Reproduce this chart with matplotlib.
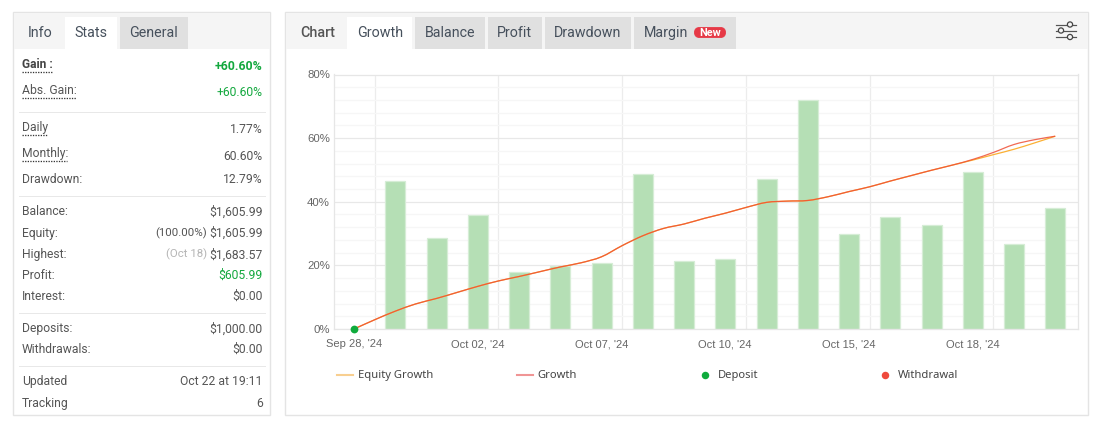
import matplotlib
matplotlib.use("Agg")
import matplotlib.pyplot as plt
from matplotlib.patches import Rectangle, FancyBboxPatch, Circle, PathPatch
from matplotlib.path import Path
from matplotlib.lines import Line2D

plt.rcParams['font.family'] = ['Roboto', 'DejaVu Sans']

# ---------- data ----------
bar_days = list(range(1, 18))
bar_values = [46.5, 28.6, 35.8, 17.9, 19.8, 20.7, 48.7, 21.4, 22.0, 47.2, 72.0, 29.9, 35.2, 32.7, 49.4, 26.7, 38.0]
line_days = [0, .5, 1, 1.5, 2, 2.5, 3, 3.5, 4, 4.5, 5, 5.5, 6, 6.5, 7, 7.5, 8, 8.5, 9, 9.5, 10, 10.5, 11, 11.5, 12,
             12.5, 13, 13.5, 14, 14.5, 15, 15.5, 16, 16.5, 17]
growth = [0, 2.9, 5.6, 7.9, 9.6, 11.5, 13.4, 15.1, 16.5, 18.0, 19.5, 20.8, 22.7, 26.2, 29.3, 31.6, 33.0, 34.8, 36.4,
          38.2, 39.8, 40.2, 40.4, 41.6, 43.2, 44.7, 46.5, 48.2, 49.9, 51.5, 53.3, 55.5, 58.0, 59.5, 60.6]
equity = [0, 2.9, 5.6, 7.9, 9.6, 11.5, 13.4, 15.1, 16.5, 18.0, 19.5, 20.8, 22.7, 26.2, 29.3, 31.6, 33.0, 34.8, 36.4,
          38.2, 39.8, 40.2, 40.4, 41.6, 43.2, 44.7, 46.5, 48.2, 49.9, 51.5, 53.1, 54.8, 56.5, 58.5, 60.6]
tick_days = [0, 3, 6, 9, 12, 15]
tick_labels = ["Sep 28, '24", "Oct 02, '24", "Oct 07, '24", "Oct 10, '24", "Oct 15, '24", "Oct 18, '24"]
grid_days = [0.5, 3.5, 6.5, 9.5, 12.5, 15.5]
y_major = [0, 20, 40, 60, 80]
y_minor = [4, 8, 12, 16, 24, 28, 32, 36, 44, 48, 52, 56, 64, 68, 72, 76]

left_tabs = [("Info", 40), ("Stats", 91), ("General", 154)]
right_tabs = [("Growth", 380, 347, 412, "#ffffff"), ("Balance", 450, 415, 485, "#e0e0e0"),
              ("Profit", 515, 488, 542, "#e0e0e0"), ("Drawdown", 588, 545, 631, "#e0e0e0"),
              ("Margin", 666, 634, 736, "#e0e0e0")]
rows = [("Abs. Gain:", 90, "+60.60%", 91.5, "#13a83e"), ("Daily", 127, "1.77%", 129, "#555555"),
        ("Monthly:", 153, "60.60%", 155.5, "#555555"), ("Drawdown:", 178.5, "12.79%", 178.5, "#555555"),
        ("Balance:", 211, "$1,605.99", 211, "#555555"), ("Equity:", 232.5, "$1,605.99", 232.5, "#555555"),
        ("Highest:", 254, "$1,683.57", 254, "#555555"), ("Profit:", 275, "$605.99", 275, "#13a83e"),
        ("Interest:", 296, "$0.00", 296, "#555555"), ("Deposits:", 328, "$1,000.00", 328, "#555555"),
        ("Withdrawals:", 349, "$0.00", 349, "#555555"), ("Updated", 381, "Oct 22 at 19:11", 381, "#555555"),
        ("Tracking", 403, "6", 403, "#555555")]

W, H = 1103, 426
fig = plt.figure(figsize=(W / 100, H / 100), dpi=100, facecolor="white")

# ---------- page chrome in pixel coordinates ----------
bg = fig.add_axes([0, 0, 1, 1], zorder=0)
bg.set_xlim(0, W)
bg.set_ylim(H, 0)
bg.axis("off")
BORDER = "#e4e4e4"
TXT = "#555555"
TAB = "#46505c"


def rect(x0, y0, x1, y1, fc="none", ec="none", lw=0, z=1):
    bg.add_patch(Rectangle((x0, y0), x1 - x0, y1 - y0, facecolor=fc, edgecolor=ec, linewidth=lw, zorder=z))


def hline(x0, x1, y, color="#e8e8e8", lw=1, ls="-"):
    bg.add_line(Line2D([x0, x1], [y, y], color=color, lw=lw * 0.72, ls=ls, zorder=2))


def txt(x, y, s, size=12, color=TXT, ha="left", weight="normal", family=None):
    kw = dict(family=family) if family else {}
    return bg.text(x - 0.3, y - 0.8, s, fontsize=size * 0.72, color=color, ha=ha, va="center_baseline", weight=weight,
                   zorder=5, **kw)


# left panel
rect(13, 12, 270, 415, fc="white", ec=BORDER, lw=1)
rect(14, 13, 270, 49, fc="#f5f5f5", z=1.5)
rect(65, 17, 117, 49, fc="#ffffff", z=2)
rect(120, 17, 188, 49, fc="#e0e0e0", z=2)
for name, cx in left_tabs:
    txt(cx, 32.5, name, size=14.3, color=TAB, ha="center")

txt(22, 64, "Gain :", size=12, color="#444444", weight="bold")
txt(263, 65.5, "+60.60%", size=12.2, color="#13a83e", ha="right", weight="bold")
for label, ly, value, vy, color in rows:
    txt(22, ly, label, size=12.1)
    txt(263, vy, value, color=color, ha="right", size=12.1)
txt(207, 232.5, "(100.00%)", size=11.5, ha="right")
txt(207, 254, "(Oct 18)", size=11.5, color="#b5b5b5", ha="right")
for y in (111, 195, 312, 365):
    hline(19, 265, y + .5)
for x1, y in ((52, 71.5), (76, 97.5), (47, 134.5), (67, 160.5)):
    hline(22, x1, y, color="#333333", lw=1.3, ls=(0, (1, 1)))

# right panel
rect(285, 12, 1088, 415, fc="white", ec=BORDER, lw=1)
rect(286, 13, 1088, 49, fc="#f5f5f5", z=1.5)
txt(317.5, 32.5, "Chart", size=14.3, color="#555555", ha="center", weight="medium")
for name, cx, x0, x1, fc in right_tabs:
    rect(x0, 17, x1, 49, fc=fc, z=2)
    txt(cx, 32.5, name, size=14.3, color=TAB, ha="center")
bg.add_patch(FancyBboxPatch((694.5, 27.5), 31, 10, boxstyle="round,pad=0,rounding_size=5",
                            facecolor="#e63946", edgecolor="#e63946", linewidth=0.6, zorder=3))
txt(710.3, 33, "New", size=11, color="white", ha="center", weight="bold")

# settings icon
for y, cx in ((24.5, 1070), (30.5, 1061), (37, 1070)):
    hline(1055.5, 1075.5, y, color="#555555", lw=1.2)
    bg.add_patch(Circle((cx, y), 2.6, facecolor="#f5f5f5", edgecolor="#444444", linewidth=0.9, zorder=4))

# legend
LEG = "Noto Sans"
bg.add_line(Line2D([337, 353], [374.5, 374.5], color="#f8cf90", lw=1.5, zorder=3))
txt(358, 375, "Equity Growth", size=11.2, color="#444444", family=LEG)
bg.add_line(Line2D([517, 533], [374.5, 374.5], color="#f09595", lw=1.5, zorder=3))
txt(538, 375, "Growth", size=11.2, color="#444444", family=LEG)
bg.add_line(Line2D([705], [374.5], marker="o", ms=5.4, color="#0fab3c", mew=0, zorder=3))
txt(718, 375, "Deposit", size=11.2, color="#444444", family=LEG)
bg.add_line(Line2D([885], [374.5], marker="o", ms=5.4, color="#ef4a3c", mew=0, zorder=3))
txt(898, 375, "Withdrawal", size=11.2, color="#444444", family=LEG)

# ---------- chart ----------
px0, px1, py_top, py_bot = 333.5, 1077.5, 74.5, 329.0
ax = fig.add_axes([px0 / W, 1 - py_bot / H, (px1 - px0) / W, (py_bot - py_top) / H], zorder=1)
ax.patch.set_alpha(0)
step = 41.25
ax.set_xlim((px0 - 354) / step, (px1 - 354) / step)
ax.set_ylim(0, 80)
for s in ax.spines.values():
    s.set_color("#e6e6e6")
    s.set_linewidth(0.9)
ax.set_axisbelow(True)

ax.set_yticks(y_major)
ax.set_yticks(y_minor, minor=True)
ax.set_yticklabels([f"{v}%" for v in y_major], fontsize=8.2, color="#666666", family="Liberation Sans",
                   va="center_baseline")
ax.grid(True, which="major", axis="y", color="#e8e8e8", lw=0.9)
ax.grid(True, which="minor", axis="y", color="#f6f6f6", lw=0.9)
for g in grid_days:
    ax.axvline(g, color="#ececec", lw=0.9, zorder=0.5)
ax.set_xticks(tick_days)
ax.set_xticklabels(tick_labels, fontsize=8.0, color="#666666", family="Liberation Sans")
ax.tick_params(axis="both", which="both", length=0)
ax.tick_params(axis="x", pad=7.5)
ax.tick_params(axis="y", pad=2.6)

ax.bar(bar_days, bar_values, width=20 / step, facecolor="#b5dfb5", edgecolor="#d6edd6", linewidth=0.9, zorder=2)


def spline_path(xs, ys):
    """Smooth (Catmull-Rom) drawing of a read series, passing through each of its points."""
    verts = [(xs[0], ys[0])]
    codes = [Path.MOVETO]
    n = len(xs)
    for i in range(n - 1):
        a, b = max(i - 1, 0), min(i + 2, n - 1)
        verts += [(xs[i] + (xs[i + 1] - xs[a]) / 6, ys[i] + (ys[i + 1] - ys[a]) / 6),
                  (xs[i + 1] - (xs[b] - xs[i]) / 6, ys[i + 1] - (ys[b] - ys[i]) / 6),
                  (xs[i + 1], ys[i + 1])]
        codes += [Path.CURVE4] * 3
    return Path(verts, codes)


ax.add_patch(PathPatch(spline_path(line_days, equity), fill=False, edgecolor="#fbb034", lw=0.9, zorder=3))
ax.add_patch(PathPatch(spline_path(line_days, growth), fill=False, edgecolor="#ef4f35", lw=0.9, alpha=0.85, zorder=4))
ax.plot([0], [0], marker="o", ms=5.6, color="#0fab3c", mew=0, clip_on=False, zorder=5)

fig.savefig("out.png", dpi=100, facecolor="white")
